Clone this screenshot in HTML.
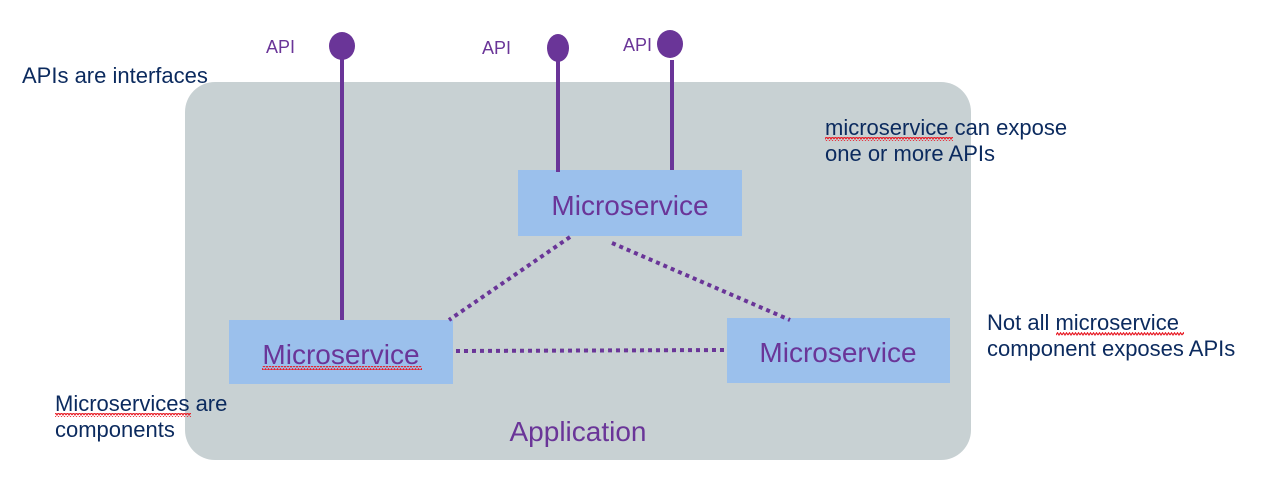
<!DOCTYPE html>
<html><head><meta charset="utf-8"><style>
html,body{margin:0;padding:0;background:#fff;}
svg{display:block;}
text{font-family:"Liberation Sans",Arial,sans-serif;}
.d{fill:#0b2a5e;font-size:22px;}
.p{fill:#6a3598;}
</style></head><body>
<svg width="1274" height="494" viewBox="0 0 1274 494">
<defs>
<pattern id="w" width="6" height="4" patternUnits="userSpaceOnUse">
<path d="M0,3 L1.5,0.8 L3,3 L4.5,0.8 L6,3" fill="none" stroke="#e8202a" stroke-width="1.2"/>
</pattern>
</defs>
<rect x="185" y="82" width="786" height="378" rx="30" fill="#c8d1d3"/>
<rect x="518" y="170" width="224" height="66" fill="#9bc0ec"/>
<rect x="229" y="320" width="224" height="64" fill="#9bc0ec"/>
<rect x="727" y="318" width="223" height="65" fill="#9bc0ec"/>
<g stroke="#6a3598" stroke-width="4">
<line x1="342" y1="56" x2="342" y2="320"/>
<line x1="558" y1="58" x2="558" y2="172"/>
<line x1="672" y1="60" x2="672" y2="170"/>
</g>
<g stroke="#6a3598" stroke-width="4" stroke-dasharray="4 4" fill="none">
<line x1="570" y1="237" x2="449" y2="320"/>
<line x1="612" y1="243" x2="790" y2="320"/>
<line x1="456" y1="351" x2="726" y2="350"/>
</g>
<ellipse cx="342" cy="46" rx="13" ry="14" fill="#6a3598"/>
<ellipse cx="558" cy="48" rx="11" ry="14" fill="#6a3598"/>
<ellipse cx="670" cy="44" rx="13" ry="14" fill="#6a3598"/>
<text x="266" y="53" class="p" font-size="18">API</text>
<text x="482" y="54" class="p" font-size="18">API</text>
<text x="623" y="51" class="p" font-size="18">API</text>
<text x="630" y="215" class="p" font-size="28" text-anchor="middle">Microservice</text>
<text x="341" y="364" class="p" font-size="28" text-anchor="middle">Microservice</text>
<text x="838" y="362" class="p" font-size="28" text-anchor="middle">Microservice</text>
<text x="578" y="441" class="p" font-size="28" text-anchor="middle">Application</text>
<text x="22" y="83" class="d">APIs are interfaces</text>
<text x="825" y="135" class="d">microservice  can expose</text>
<text x="825" y="161" class="d">one or more APIs</text>
<text x="987" y="330" class="d">Not all microservice</text>
<text x="987" y="356" class="d">component exposes APIs</text>
<text x="55" y="411" class="d">Microservices are</text>
<text x="55" y="437" class="d">components</text>
<rect x="825" y="137" width="128" height="4" fill="url(#w)"/>
<rect x="1056" y="332" width="128" height="4" fill="url(#w)"/>
<rect x="55" y="413" width="136" height="4" fill="url(#w)"/>
<rect x="262" y="366" width="160" height="4" fill="url(#w)"/>
</svg>
</body></html>
